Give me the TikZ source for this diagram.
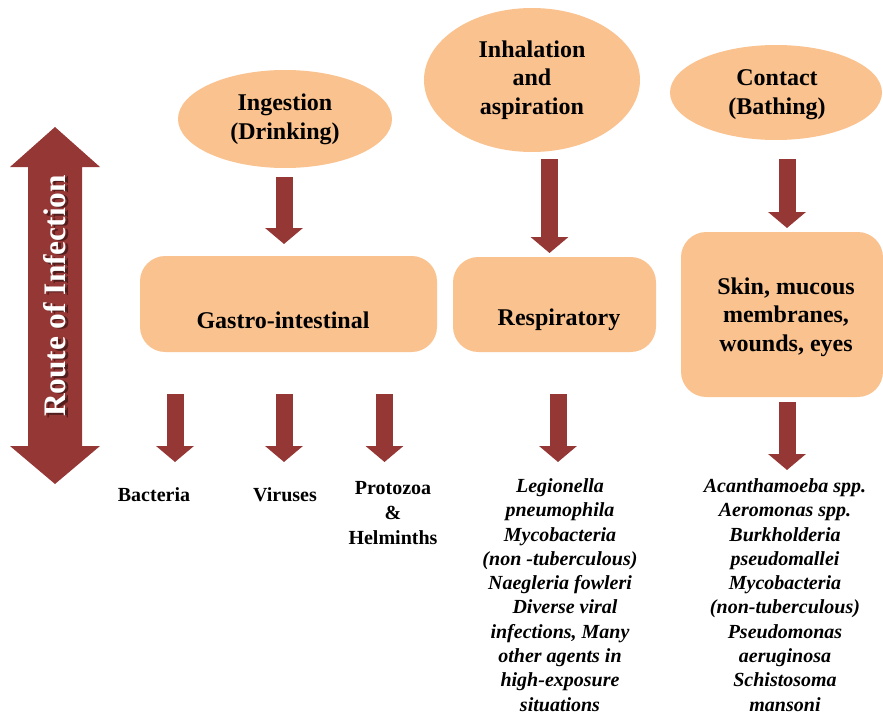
\documentclass[tikz,border=0pt]{standalone}
\usepackage{fontspec}
\setmainfont{Liberation Serif}
\usetikzlibrary{arrows.meta,shapes.geometric}
\definecolor{peach}{HTML}{F9C28F}
\definecolor{arrowred}{HTML}{953735}
\begin{document}
\begin{tikzpicture}[x=0.75pt,y=-0.75pt,
  oval/.style={ellipse, fill=peach, draw=none, inner sep=0pt, align=center,
    font=\bfseries\fontsize{18}{21.5}\selectfont},
  pbox/.style={rectangle, rounded corners=19pt, fill=peach, draw=none, inner sep=0pt},
  btext/.style={align=center, inner sep=0pt, font=\bfseries\fontsize{18}{21.5}\selectfont},
  flow/.style={draw=arrowred, line width=12.75pt, -{Triangle[width=27.75pt,length=12pt]}},
  lbl/.style={align=center, font=\bfseries\fontsize{15}{18.75}\selectfont},
  ital/.style={align=center, font=\bfseries\itshape\fontsize{15}{18.2}\selectfont}]
\useasboundingbox (0,0) rectangle (883,714);

% big double arrow
\fill[arrowred] (55,127) -- (100,167) -- (82,167) -- (82,446) -- (100,446) -- (55,484)
  -- (10,446) -- (28,446) -- (28,167) -- (10,167) -- cycle;
\node[rotate=90, text=black, opacity=0.45, font=\bfseries\fontsize{23.5}{24}\selectfont] (routeshadow) at (57.5,297.5) {Route of Infection};
\node[rotate=90, text=white, font=\bfseries\fontsize{23.5}{24}\selectfont] (route) at (55,296) {Route of Infection};

% ovals
\node[oval, minimum width=160.5pt, minimum height=73.5pt] (ing) at (285,119) {Ingestion\\(Drinking)};
\node[oval, minimum width=162pt, minimum height=108pt] (inh) at (532,80) {Inhalation\\and\\aspiration};
\node[oval, minimum width=159pt, minimum height=71.25pt] (con) at (776,92.5) {};
\node[btext] (context) at (777,95) {Contact\\(Bathing)};

% boxes
\node[pbox, minimum width=222.75pt, minimum height=72pt] (gi) at (288.5,304) {};
\node[btext] (gitext) at (283,320) {Gastro-intestinal};
\node[pbox, minimum width=152.25pt, minimum height=71.25pt] (resp) at (554.5,304.5) {};
\node[btext] (resptext) at (559,320) {Respiratory};
\node[pbox, minimum width=151.5pt, minimum height=123.75pt] (skin) at (782,314.5) {};
\node[btext] (skintext) at (786,317) {Skin, mucous\\membranes,\\wounds, eyes};

% labels
\node[lbl] (bac) at (154,495) {Bacteria};
\node[lbl] (vir) at (285,495) {Viruses};
\node[lbl] (pro) at (393,513) {Protozoa\\\&\\Helminths};
\node[ital] (rlist) at (560,595) {Legionella\\pneumophila\\Mycobacteria\\(non -tuberculous)\\Naegleria fowleri\\\ \ Diverse viral\\infections, Many\\other agents in\\high-exposure\\situations};
\node[ital] (slist) at (785,595) {Acanthamoeba spp.\\Aeromonas spp.\\Burkholderia\\pseudomallei\\Mycobacteria\\(non-tuberculous)\\Pseudomonas\\aeruginosa\\Schistosoma\\mansoni};

% arrow end points
\coordinate (a1s) at (284,177); \coordinate (a1e) at (284,244);
\coordinate (a2s) at (549.5,159); \coordinate (a2e) at (549.5,253);
\coordinate (a3s) at (787,159); \coordinate (a3e) at (787,228);
\coordinate (b1s) at (175,394); \coordinate (b1e) at (175,462);
\coordinate (b2s) at (284,394); \coordinate (b2e) at (284,462);
\coordinate (b3s) at (384.5,394); \coordinate (b3e) at (384.5,462);
\coordinate (b4s) at (558,394); \coordinate (b4e) at (558,462);
\coordinate (b5s) at (787,402); \coordinate (b5e) at (787,470);

\draw[flow] (a1s) -- (a1e);
\draw[flow] (a2s) -- (a2e);
\draw[flow] (a3s) -- (a3e);
\draw[flow] (b1s) -- (b1e);
\draw[flow] (b2s) -- (b2e);
\draw[flow] (b3s) -- (b3e);
\draw[flow] (b4s) -- (b4e);
\draw[flow] (b5s) -- (b5e);
\end{tikzpicture}
\end{document}
